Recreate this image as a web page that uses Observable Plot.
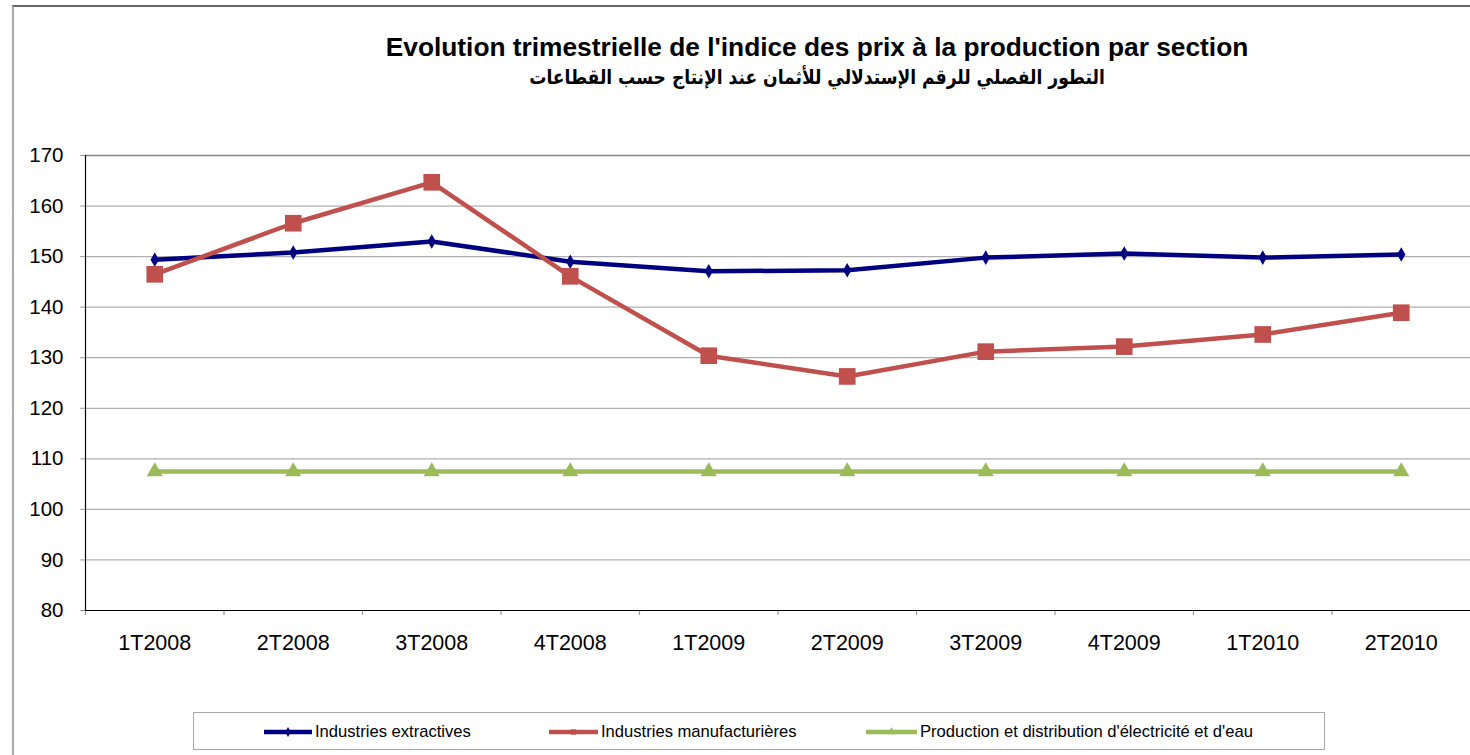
<!DOCTYPE html>
<html><head><meta charset="utf-8">
<script src="https://cdn.jsdelivr.net/npm/d3@7"></script>
<script src="https://cdn.jsdelivr.net/npm/@observablehq/plot@0.6"></script>
<style>
body{margin:0;background:#fff;font-family:Arial,"Liberation Sans",sans-serif;}
#wrap{position:relative;width:1470px;height:755px;overflow:hidden;background:#fff;}
#frame{position:absolute;left:12px;top:5px;width:1600px;height:800px;border-left:2px solid #aaa;border-top:2px solid #666;box-sizing:border-box;}
#chart{position:absolute;left:0;top:0;}
#title{position:absolute;left:317px;width:1000px;top:32px;text-align:center;font-weight:bold;font-size:26.3px;line-height:30px;color:#000;}
#subtitle{position:absolute;left:317px;width:1000px;top:64px;text-align:center;font-weight:bold;font-size:20px;line-height:26px;font-family:"DejaVu Sans",Arial,sans-serif;color:#000;transform:scaleX(0.855);transform-origin:500px 0;}
#legend{position:absolute;left:193px;top:712px;width:1132px;height:38px;border:1px solid #aaa;box-sizing:border-box;}
.li{position:absolute;top:0;height:38px;display:flex;align-items:center;font-size:16.6px;color:#000;white-space:nowrap;}
.li svg{margin-right:3px;}
</style></head>
<body>
<div id="wrap">
  <div id="frame"></div>
  <div id="chart"></div>
  <div id="title">Evolution trimestrielle de l'indice des prix à la production par section</div>
  <div id="subtitle" dir="rtl">التطور الفصلي للرقم الإستدلالي للأثمان عند الإنتاج حسب القطاعات</div>
  <div id="legend"></div>
</div>
<script>
const quarters = ["1T2008","2T2008","3T2008","4T2008","1T2009","2T2009","3T2009","4T2009","1T2010","2T2010"];
const extractives = [149.4,150.8,153.0,149.0,147.1,147.3,149.8,150.6,149.8,150.4];
const manufacturieres = [146.5,156.6,164.7,146.1,130.4,126.3,131.2,132.2,134.6,138.9];
const electricite = [107.5,107.5,107.5,107.5,107.5,107.5,107.5,107.5,107.5,107.5];
const seriesNames = ["Industries extractives","Industries manufacturières","Production et distribution d'électricité et d'eau"];
const seriesColors = ["#000080","#C0504D","#9BBB59"];
const seriesSymbols = ["diamond","square","triangle"];
const yTicks = [80,90,100,110,120,130,140,150,160,170];

const seriesValues = [extractives, manufacturieres, electricite];
const rows = seriesValues.flatMap((vals,s)=>quarters.map((q,i)=>({q, v: vals[i], s: seriesNames[s]})));

const W = 1470, ML = 85, MR = 0;
const step = (W - ML - MR) / quarters.length;
const font = "Arial, 'Liberation Sans', sans-serif";
const symR = {diamond: 4.4, square: 9.4, triangle: 6.0};

const marks = [
  Plot.ruleY(yTicks.filter(d => d > 80 && d < 170), {y: d => d, stroke: "#b0b0b0", strokeWidth: 1.3}),
  Plot.ruleY([170], {stroke: "#888", strokeWidth: 1.3}),
  Plot.axisY({ticks: yTicks, tickSize: 5, tickPadding: 17, stroke: "#999", fill: "#000", fontSize: 20.5, label: null}),
  Plot.axisX({ticks: quarters, tickSize: 0, tickPadding: 24, fill: "#000", fontSize: 21.5, label: null}),
  Plot.ruleX(quarters, {x: d => d, dx: -step/2, y1: 79, y2: 80, stroke: "#999", strokeWidth: 1.2}),
  Plot.ruleX([quarters[0]], {x: d => d, dx: -step/2, y1: 80, y2: 170, stroke: "#000", strokeWidth: 1.2}),
  Plot.ruleY([80], {stroke: "#000", strokeWidth: 1.2})
];
seriesNames.forEach((name, s) => {
  const data = rows.filter(d => d.s === name);
  marks.push(Plot.lineY(data, {x: "q", y: "v", stroke: seriesColors[s], strokeWidth: 4.5}));
});
seriesNames.forEach((name, s) => {
  const data = rows.filter(d => d.s === name);
  marks.push(Plot.dot(data, {x: "q", y: "v", symbol: seriesSymbols[s], fill: seriesColors[s], stroke: "none", r: symR[seriesSymbols[s]]}));
});

const chart = Plot.plot({
  width: W, height: 700,
  marginLeft: ML, marginRight: MR, marginTop: 155, marginBottom: 90,
  style: {background: "transparent", fontFamily: font, color: "#000", overflow: "visible"},
  x: {type: "point", domain: quarters, padding: 0.5, round: false},
  y: {domain: [80, 170]},
  marks
});
document.getElementById("chart").appendChild(chart);

// legend
const legendPos = [[70, 48], [355, 49], [672, 51]];
const leg = d3.select("#legend");
seriesNames.forEach((name, s) => {
  const item = leg.append("div").attr("class", "li").style("left", legendPos[s][0] + "px");
  const w = legendPos[s][1];
  const svg = item.append("svg").attr("width", w).attr("height", 16);
  svg.append("line").attr("x1", 0).attr("x2", w).attr("y1", 8).attr("y2", 8)
     .attr("stroke", seriesColors[s]).attr("stroke-width", 4.5);
  const sym = {diamond: d3.symbolDiamond, square: d3.symbolSquare, triangle: d3.symbolTriangle}[seriesSymbols[s]];
  svg.append("path").attr("d", d3.symbol(sym, 28)()).attr("transform", `translate(${w/2},8)`).attr("fill", seriesColors[s]);
  item.append("span").text(name);
});
</script>
</body></html>
